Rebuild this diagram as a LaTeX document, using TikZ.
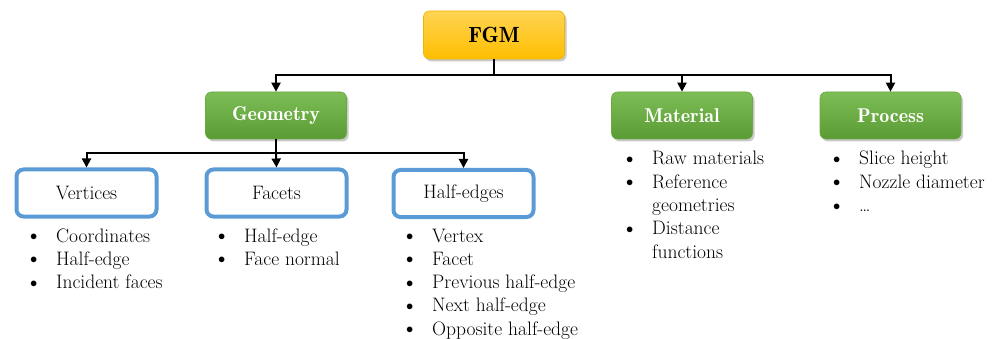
\documentclass[tikz,border=0pt]{standalone}
\usetikzlibrary{arrows.meta,shadows}
\definecolor{gold1}{HTML}{FFD452}
\definecolor{gold2}{HTML}{FFBE00}
\definecolor{goldline}{HTML}{F2B400}
\definecolor{green1}{HTML}{7DBD55}
\definecolor{green2}{HTML}{5B9B35}
\definecolor{greenline}{HTML}{6AAA42}
\definecolor{blueline}{HTML}{5B9BD5}
\tikzset{
  topbox/.style={rounded corners=6pt, top color=gold1, bottom color=gold2, draw=goldline, line width=0.6pt,
    minimum width=141pt, minimum height=48pt, font=\fontsize{22}{26}\fontseries{b}\selectfont,
    drop shadow={shadow xshift=2pt, shadow yshift=-2.5pt, opacity=0.35, fill=black!60}},
  catbox/.style={rounded corners=6pt, top color=green1, bottom color=green2, draw=greenline, line width=0.6pt,
    minimum width=141pt, minimum height=47pt, text=white, font=\fontsize{20}{24}\fontseries{b}\selectfont,
    drop shadow={shadow xshift=2pt, shadow yshift=-2.5pt, opacity=0.35, fill=black!60}},
  subbox/.style={rounded corners=7pt, draw=blueline, line width=4pt, fill=white,
    minimum width=140pt, minimum height=47pt, font=\fontsize{19.5}{23}\selectfont},
  listnode/.style={anchor=base west, inner sep=0pt, font=\fontsize{19.5}{23.3}\selectfont},
  conn/.style={line width=2pt, draw=black},
  arr/.style={conn, -{Triangle[length=9pt,width=9pt]}}
}
\newcommand{\blist}[1]{\begin{tabular}[t]{@{}p{26pt}@{}l@{}}#1\end{tabular}}
\newcommand{\bul}{\raisebox{1.5pt}{\scalebox{0.7}{$\bullet$}}}
\begin{document}
\begin{tikzpicture}[x=1pt,y=-1pt]
\useasboundingbox (0,0) rectangle (1003,339);
% top
\node[topbox] (fgm) at (494,35) {FGM};
\node[catbox] (geo) at (276,115.5) {Geometry};
\node[catbox] (mat) at (682,115.5) {Material};
\node[catbox] (proc) at (890.5,115.5) {Process};
\node[subbox] (vert) at (86.5,193) {Vertices};
\node[subbox] (fac) at (276.5,193) {Facets};
\node[subbox] (half) at (463.5,193.5) {Half-edges};
% connectors
\coordinate (b1) at (494,75);
\coordinate (b2) at (276,153);
\draw[conn] (fgm.south) -- (b1);
\draw[arr] (b1) -| (geo.north);
\draw[arr] (b1) -| (mat.north);
\draw[arr] (b1) -| (proc.north);
\draw[conn] (geo.south) -- (b2);
\draw[arr] (b2) -| (vert.north);
\draw[arr] (b2) -- (fac.north);
\draw[arr] (b2) -| (half.north);
% lists
\node[listnode] (vlist) at (30,242) {\blist{\bul & Coordinates\\ \bul & Half-edge\\ \bul & Incident faces}};
\node[listnode] (flist) at (218,242) {\blist{\bul & Half-edge\\ \bul & Face normal}};
\node[listnode] (hlist) at (406,242) {\blist{\bul & Vertex\\ \bul & Facet\\ \bul & Previous half-edge\\ \bul & Next half-edge\\ \bul & Opposite half-edge}};
\node[listnode] (mlist) at (626,165) {\blist{\bul & Raw materials\\ \bul & Reference\\ & geometries\\ \bul & Distance\\ & functions}};
\node[listnode] (plist) at (833,165) {\blist{\bul & Slice height\\ \bul & Nozzle diameter\\ \bul & \ldots}};
\end{tikzpicture}
\end{document}
